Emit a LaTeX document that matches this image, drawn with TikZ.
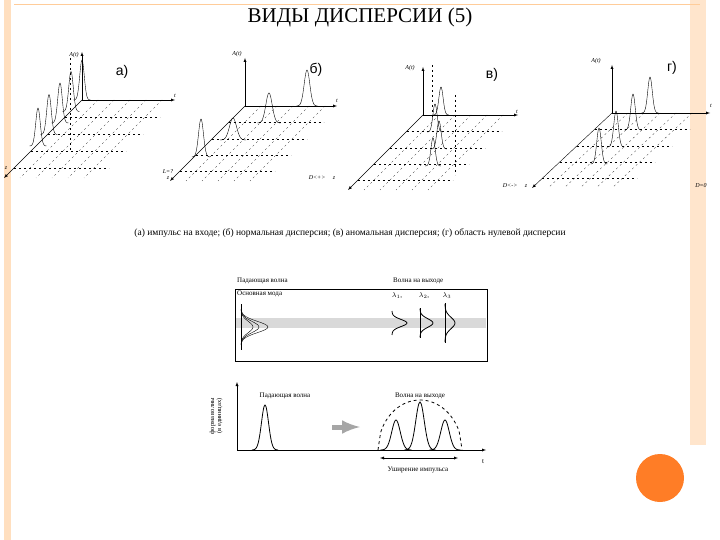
\documentclass[tikz,border=0pt]{standalone}
\usepackage{fontspec}
\setmainfont{Liberation Serif}
\setsansfont{Liberation Sans}
\usetikzlibrary{calc}
\begin{document}
\begin{tikzpicture}[x=1pt,y=-1pt,
  ax/.style={->,>=latex,thin},
  dl/.style={dash pattern=on 2pt off 3pt,very thin},
  pl/.style={thin},
  sm/.style={font=\itshape\fontsize{6}{6}\selectfont,inner sep=1pt}]
\useasboundingbox (0,0) rectangle (720,540);
\fill[orange!25] (4,0) rectangle (11,540);
\fill[orange!20] (690,0) rectangle (706,445);
\draw[orange!40] (14,4) -- (700,4);
\fill[orange!80!red,opacity=.85] (660,478) circle (24);
\node[font=\fontsize{21}{21}\selectfont] (title) at (360,17) {ВИДЫ ДИСПЕРСИИ (5)};
\newcommand\pulse[4]{\draw[pl] plot[domain=-2.6:2.6,samples=31,smooth] ({#1+\x*#4},{#2-#3*exp(-\x*\x)});}
\newcommand\panel[6]{%
  \coordinate (o#1) at (#2,#3);
  \coordinate (a#1) at (#2,#3-48);
  \coordinate (t#1) at (#2+#4,#3);
  \coordinate (z#1) at (#2-#5,#3+#6);
  \foreach \k in {1,2,3,4}{
    \draw[dl] ($(o#1)!\k/4.6!(z#1)$) -- ++(95,0);}
  \foreach \j in {1,2,3,4,5}{
    \draw[dl] ($(o#1)+(\j*16,0)$) -- ++($-1*(o#1)+(z#1)$);}
  \draw[ax] (o#1) -- (a#1);
  \draw[ax] (o#1) -- (t#1);
  \draw[ax] (o#1) -- (z#1);
}
% a
\panel{A}{82}{100}{93}{78}{78}
\foreach \k/\h in {0/40,1/40,2/40,3/40,4/38}{\pulse{82-\k*11}{100+\k*11.5}{\h}{3.2}}
\draw[dl] (70,58) -- (70,150);
\node[sm] (la) at (74,55) {A(t)};
\node[sm] (lta) at (175,96) {t};
\node[sm] (lza) at (6,168) {z};
\node[font=\sffamily\fontsize{14}{14}\selectfont] (na) at (122,72) {а)};
% b
\panel{B}{245}{106}{92}{75}{75}
\foreach \k/\dx/\h/\w in {0/42/36/4,1/20/30/4.5,2/0/22/5,3/-16/38/3.5}{\pulse{245-\k*16+\dx+20}{106+\k*17}{\h}{\w}}
\node[sm] (lb) at (237,54) {A(t)};
\node[sm] (ltb) at (337,101) {t};
\node[sm] (lzb) at (168,172) {L=?};
\node[sm] (lzb2) at (168,178) {z};
\node[font=\sffamily\fontsize{14}{14}\selectfont] (nb) at (316,70) {б)};
% v
\panel{C}{423}{115}{95}{75}{75}
\foreach \k/\dx in {0/-2,1/8,2/28,3/38}{\pulse{423-\k*16+\dx+20}{115+\k*17}{28}{3}}
\draw[dl] (432,65) -- (432,120);\draw[dl] (455,95) -- (455,175);
\node[sm] (lc) at (410,68) {A(t)};
\node[sm] (ltc) at (517,112) {t};
\node[font=\sffamily\fontsize{14}{14}\selectfont] (nc) at (492,75) {в)};
\node[sm] (lzc) at (322,178) {D<+> \quad z};
% g
\panel{D}{612}{113}{98}{80}{75}
\foreach \k in {0,1,2,3}{\pulse{612-\k*17+38}{113+\k*17-0}{36}{3.2}}
\node[sm] (ld) at (596,61) {A(t)};
\node[sm] (ltd) at (711,106) {t};
\node[font=\sffamily\fontsize{14}{14}\selectfont] (nd) at (672,68) {г)};
\node[sm] (lzd) at (515,186) {D<-> \quad z};
\node[sm] (lzd2) at (701,186) {D=0};
% caption
\node[font=\fontsize{9.5}{10}\selectfont] (cap) at (350,233) {(а) импульс на входе; (б) нормальная дисперсия; (в) аномальная дисперсия; (г) область нулевой дисперсии};
% bottom figure
\node[draw,thin,minimum width=252,minimum height=72,anchor=north west,inner sep=0] (box) at (235,289) {};
\fill[gray!30] (236,318) rectangle (486,328);
\node[font=\fontsize{7}{7}\selectfont,anchor=west,inner sep=0] (pw) at (237,281) {Падающая волна};
\node[font=\fontsize{7}{7}\selectfont,anchor=west,inner sep=0] (om) at (237,294) {Основная мода};
\node[font=\fontsize{7}{7}\selectfont,anchor=west,inner sep=0] (vv) at (393,281) {Волна на выходе};
\node[font=\fontsize{7}{7}\selectfont] (l1) at (397,296) {$\lambda_1$,};
\node[font=\fontsize{7}{7}\selectfont] (l2) at (424,296) {$\lambda_2$,};
\node[font=\fontsize{7}{7}\selectfont] (l3) at (447,296) {$\lambda_3$};
\draw[thick] (241,304) -- (241,350);
\foreach \s in {4,6,9}{\draw plot[domain=-2.2:2.2,samples=25,smooth] ({241+\s*1.5*exp(-\x*\x)*2},{327+\x*8});}
\foreach \xx/\w/\h in {392/15/5,420/13/6,445/10/8}{\draw[thick] plot[domain=-2.4:2.4,samples=25,smooth] ({\xx+\w*exp(-\x*\x)},{323+\x*\h});}
\draw (420,308) -- (420,338); \draw (445,303) -- (445,343);
% lower plot
\coordinate (or) at (237,450);
\draw[ax] (or) -- (237,382);
\draw[ax] (or) -- (486,450);
\node[rotate=90,font=\fontsize{6.5}{7}\selectfont,align=center] (yl) at (216,416) {форма волны\\(в единицах)};
\node[font=\fontsize{7}{7}\selectfont] (pw2) at (285,396) {Падающая волна};
\node[font=\fontsize{7}{7}\selectfont] (vv2) at (420,396) {Волна на выходе};
\draw[thick] plot[domain=-2.6:2.6,samples=31,smooth] ({265+\x*5},{450-45*exp(-\x*\x)});
\draw[line width=5pt,gray!70,-latex] (332,427) -- (360,427);
\foreach \xx/\h in {396/30,420/48,445/30}{\draw[thick] plot[domain=-2.6:2.6,samples=31,smooth] ({\xx+\x*6},{450-\h*exp(-\x*\x)});}
\draw[dashed,thick] plot[domain=-1:1,samples=31,smooth] ({420+\x*42},{450-50*sqrt(1-\x*\x)});
\draw[<->,>=latex] (380,458) -- (458,458);
\node[font=\fontsize{7}{7}\selectfont] (ush) at (418,470) {Уширение импульса};
\node[font=\fontsize{7}{7}\selectfont] (tl) at (483,462) {t};
\end{tikzpicture}
\end{document}
